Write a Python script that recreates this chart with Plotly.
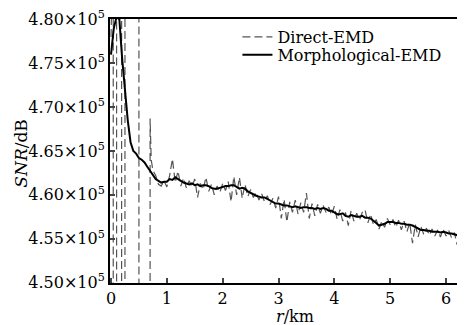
import plotly.graph_objects as go

# r (km) and SNR values in units of 1e5 dB
morph_r = [0.00, 0.05, 0.10, 0.15, 0.20, 0.25, 0.30, 0.35, 0.40, 0.45, 0.50, 0.55, 0.60, 0.65, 0.70,
           0.75, 0.80, 0.85, 0.90, 0.95, 1.00, 1.05, 1.10, 1.15, 1.20, 1.25, 1.30, 1.35, 1.40, 1.45,
           1.50, 1.55, 1.60, 1.65, 1.70, 1.75, 1.80, 1.85, 1.90, 1.95, 2.00, 2.05, 2.10, 2.15, 2.20,
           2.25, 2.30, 2.35, 2.40, 2.45, 2.50, 2.55, 2.60, 2.65, 2.70, 2.75, 2.80, 2.85, 2.90, 2.95,
           3.00, 3.05, 3.10, 3.15, 3.20, 3.25, 3.30, 3.35, 3.40, 3.45, 3.50, 3.55, 3.60, 3.65, 3.70,
           3.75, 3.80, 3.85, 3.90, 3.95, 4.00, 4.05, 4.10, 4.15, 4.20, 4.25, 4.30, 4.35, 4.40, 4.45,
           4.50, 4.55, 4.60, 4.65, 4.70, 4.75, 4.80, 4.85, 4.90, 4.95, 5.00, 5.05, 5.10, 5.15, 5.20,
           5.25, 5.30, 5.35, 5.40, 5.45, 5.50, 5.55, 5.60, 5.65, 5.70, 5.75, 5.80, 5.85, 5.90, 5.95,
           6.00, 6.05, 6.10, 6.15, 6.20, 6.25, 6.30, 6.35]
morph_snr = [4.760, 4.790, 4.803, 4.800, 4.755, 4.715, 4.685, 4.660, 4.650, 4.647, 4.642, 4.640, 4.637, 4.632, 4.627,
             4.622, 4.618, 4.616, 4.614, 4.615, 4.615, 4.618, 4.617, 4.620, 4.618, 4.616, 4.614, 4.613, 4.612, 4.613,
             4.611, 4.612, 4.610, 4.611, 4.611, 4.610, 4.608, 4.607, 4.607, 4.608, 4.609, 4.610, 4.610, 4.611, 4.611,
             4.609, 4.607, 4.608, 4.607, 4.604, 4.602, 4.601, 4.599, 4.598, 4.597, 4.597, 4.595, 4.593, 4.592, 4.590,
             4.590, 4.589, 4.588, 4.588, 4.587, 4.586, 4.587, 4.586, 4.585, 4.586, 4.586, 4.585, 4.585, 4.584, 4.585,
             4.584, 4.585, 4.584, 4.582, 4.582, 4.580, 4.578, 4.578, 4.579, 4.576, 4.575, 4.577, 4.576, 4.575, 4.575,
             4.576, 4.574, 4.574, 4.573, 4.571, 4.568, 4.565, 4.566, 4.567, 4.569, 4.569, 4.569, 4.568, 4.568, 4.567,
             4.567, 4.566, 4.566, 4.565, 4.563, 4.561, 4.560, 4.560, 4.559, 4.559, 4.558, 4.558, 4.558, 4.557, 4.558,
             4.557, 4.556, 4.556, 4.555, 4.554, 4.555, 4.554, 4.553]

direct_r = [0.00, 0.04, 0.04, 0.10, 0.10, 0.19, 0.19, 0.25, 0.25, 0.50, 0.50, 0.70, 0.70, 0.72,
            0.75, 0.80, 0.85, 0.90, 0.95, 1.00, 1.05, 1.10, 1.15, 1.20, 1.25, 1.30, 1.35, 1.40, 1.45,
            1.50, 1.55, 1.60, 1.65, 1.70, 1.75, 1.80, 1.85, 1.90, 1.95, 2.00, 2.05, 2.10, 2.15, 2.20,
            2.25, 2.30, 2.35, 2.40, 2.45, 2.50, 2.55, 2.60, 2.65, 2.70, 2.75, 2.80, 2.85, 2.90, 2.95,
            3.00, 3.05, 3.10, 3.15, 3.20, 3.25, 3.30, 3.35, 3.40, 3.45, 3.50, 3.55, 3.60, 3.65, 3.70,
            3.75, 3.80, 3.85, 3.90, 3.95, 4.00, 4.05, 4.10, 4.15, 4.20, 4.25, 4.30, 4.35, 4.40, 4.45,
            4.50, 4.55, 4.60, 4.65, 4.70, 4.75, 4.80, 4.85, 4.90, 4.95, 5.00, 5.05, 5.10, 5.15, 5.20,
            5.25, 5.30, 5.35, 5.40, 5.45, 5.50, 5.55, 5.60, 5.65, 5.70, 5.75, 5.80, 5.85, 5.90, 5.95,
            6.00, 6.05, 6.10, 6.15, 6.20, 6.25, 6.30, 6.35]
direct_snr = [4.780, 4.900, 4.400, 4.400, 4.900, 4.900, 4.400, 4.400, 4.900, 4.900, 4.400, 4.400, 4.687, 4.640,
              4.628, 4.622, 4.612, 4.610, 4.616, 4.609, 4.622, 4.641, 4.614, 4.627, 4.610, 4.619, 4.608, 4.616, 4.609,
              4.618, 4.597, 4.613, 4.606, 4.620, 4.604, 4.612, 4.600, 4.610, 4.603, 4.613, 4.605, 4.615, 4.592, 4.621,
              4.600, 4.620, 4.596, 4.612, 4.598, 4.606, 4.597, 4.603, 4.594, 4.601, 4.592, 4.599, 4.589, 4.596, 4.585,
              4.598, 4.573, 4.595, 4.569, 4.592, 4.580, 4.594, 4.578, 4.591, 4.580, 4.602, 4.573, 4.590, 4.576, 4.589,
              4.579, 4.588, 4.580, 4.586, 4.577, 4.587, 4.572, 4.583, 4.570, 4.580, 4.565, 4.582, 4.570, 4.579, 4.571,
              4.580, 4.583, 4.568, 4.578, 4.566, 4.572, 4.561, 4.570, 4.563, 4.573, 4.566, 4.572, 4.563, 4.571, 4.560,
              4.570, 4.558, 4.568, 4.545, 4.566, 4.552, 4.564, 4.555, 4.562, 4.554, 4.561, 4.553, 4.560, 4.552, 4.561,
              4.553, 4.559, 4.551, 4.557, 4.543, 4.556, 4.564, 4.550]

x_ticks = [0, 1, 2, 3, 4, 5, 6]
y_ticks = [4.50, 4.55, 4.60, 4.65, 4.70, 4.75, 4.80]
y_ticktext = ["4.50×10<sup>5</sup>", "4.55×10<sup>5</sup>", "4.60×10<sup>5</sup>", "4.65×10<sup>5</sup>",
              "4.70×10<sup>5</sup>", "4.75×10<sup>5</sup>", "4.80×10<sup>5</sup>"]

FONT = "DejaVu Serif"

fig = go.Figure()
fig.add_trace(go.Scatter(x=direct_r, y=direct_snr, mode="lines", name="Direct-EMD", legend="legend",
                         line=dict(color="#555555", width=1.2, dash="8px,4px")))
fig.add_trace(go.Scatter(x=morph_r, y=morph_snr, mode="lines", name="Morphological-EMD", legend="legend2",
                         line=dict(color="black", width=2)))

leg_common = dict(xanchor="left", yanchor="top", bgcolor="rgba(0,0,0,0)",
                  font=dict(family=FONT, size=16))

fig.update_layout(
    width=457, height=317,
    margin=dict(l=102, r=0, t=8, b=42),
    paper_bgcolor="white", plot_bgcolor="white",
    font=dict(family=FONT, size=16, color="black"),
    showlegend=True,
    legend=dict(x=0.359, y=0.996, **leg_common),
    legend2=dict(x=0.359, y=0.929, **leg_common),
    xaxis=dict(range=[-0.018, 6.34], tickvals=x_ticks, ticks="inside", ticklen=5, tickwidth=1.5,
               showline=True, linecolor="black", linewidth=2, mirror=True, showgrid=False,
               zeroline=False, tickfont=dict(family=FONT, size=16), ticklabeloverflow="allow"),
    yaxis=dict(range=[4.4995, 4.8005], tickvals=y_ticks, ticktext=y_ticktext, ticks="inside", ticklen=5,
               tickwidth=1.5, showline=True, linecolor="black", linewidth=2, showgrid=False,
               zeroline=False, tickfont=dict(family=FONT, size=16), ticklabeloverflow="allow"),
    annotations=[
        dict(text="<i>r</i>/km", xref="paper", yref="paper", x=0.521, y=0, yshift=-33,
             xanchor="center", yanchor="middle", showarrow=False, font=dict(family=FONT, size=16)),
        dict(text="<i>SNR</i>/dB", xref="paper", yref="paper", x=0, xshift=-89, y=0.49,
             xanchor="center", yanchor="middle", textangle=-90, showarrow=False,
             font=dict(family=FONT, size=17)),
    ],
)

fig.write_html("out.html")
